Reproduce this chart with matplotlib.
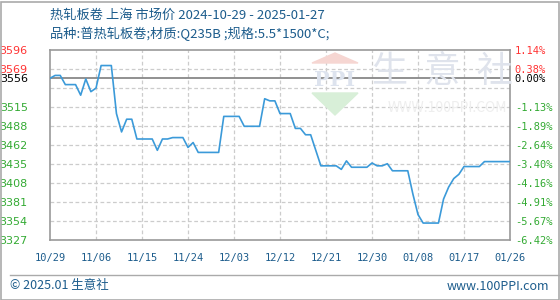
import matplotlib
matplotlib.use("Agg")
import matplotlib.pyplot as plt
from matplotlib.patches import Polygon, Rectangle
from matplotlib.lines import Line2D

plt.rcParams["font.family"] = ["Noto Sans CJK SC", "DejaVu Sans"]

# ── data (day offset from 2024-10-29, price) ──
days = [0, 1, 2, 3, 5, 6, 7, 8, 9, 10, 12, 13, 14, 15, 16, 17, 20, 21, 22, 23,
        24, 26, 27, 28, 29, 33, 34, 37, 38, 41, 42, 43, 44, 45, 47, 48, 49, 50,
        51, 53, 56, 57, 58, 59, 62, 63, 64, 65, 66, 67, 70, 71, 72, 73, 76, 77,
        78, 79, 80, 81, 84, 85, 90]
prices = [3556, 3560, 3560, 3547, 3547, 3532, 3555, 3537, 3542, 3574, 3574,
          3506, 3480, 3498, 3498, 3470, 3470, 3454, 3470, 3470, 3472, 3472,
          3458, 3465, 3451, 3451, 3502, 3502, 3488, 3488, 3527, 3524, 3524,
          3506, 3506, 3485, 3485, 3476, 3476, 3432, 3432, 3427, 3439, 3430,
          3430, 3436, 3432, 3432, 3435, 3425, 3425, 3392, 3363, 3351, 3351,
          3385, 3402, 3414, 3420, 3431, 3431, 3438, 3438]

x_ticks = [0, 9, 18, 27, 36, 45, 54, 63, 72, 81, 90]
x_labels = ["10/29", "11/06", "11/15", "11/24", "12/03", "12/12", "12/21",
            "12/30", "01/08", "01/17", "01/26"]

base_price = 3556
y_left = [3596, 3569, 3556, 3515, 3488, 3462, 3435, 3408, 3381, 3354, 3327]
y_right = ["1.14%", "0.38%", "0.00%", "-1.13%", "-1.89%", "-2.64%", "-3.40%",
           "-4.16%", "-4.91%", "-5.67%", "-6.42%"]
y_grid = [3569, 3542, 3515, 3488, 3462, 3435, 3408, 3381, 3354]

W, H = 560, 300
BLUE_TXT = "#1c5c8c"
RED, GREEN, BLACK = "#ff3333", "#33aa33", "#000000"


def px(x, y):
    return x / W, 1 - y / H


fig = plt.figure(figsize=(W / 100, H / 100), dpi=100)
fig.patch.set_facecolor("white")

# outer frame + footer separator
fig.add_artist(Rectangle((0.5 / W, 0.5 / H), (W - 1.5) / W, (H - 2.5) / H,
                         transform=fig.transFigure, fill=False,
                         edgecolor="#aaaaaa", lw=1.2))
fig.add_artist(Line2D([10 / W, 1], [1 - 275 / H] * 2, color="#aaaaaa", lw=1.0))

ax = fig.add_axes([50 / W, 1 - 240 / H, 460 / W, 190 / H])
ax.set_xlim(0, 90)
ax.set_ylim(3327, 3596)
for s in ax.spines.values():
    s.set_color("#999999")
    s.set_linewidth(1.2)

# watermark
wm = dict(transform=fig.transFigure, zorder=0)
fig.patches.append(Polygon([px(312, 63), px(358, 63), px(335, 53)],
                           closed=True, color="#f6d6d2", **wm))
fig.patches.append(Polygon([px(312, 93), px(358, 93), px(335, 115)],
                           closed=True, color="#d8efd8", **wm))
fig.text(*px(335, 80), "PPI", ha="center", va="center", fontsize=15,
         color="#dde3ee", fontweight="bold", family="DejaVu Serif", zorder=0)
fig.text(*px(442, 72), "生  意  社", ha="center", va="center", fontsize=26,
         color="#dfe3ec", zorder=0)
fig.text(*px(447, 108), "WWW.100PPI.COM", ha="center", va="center",
         fontsize=10, color="#eeeeee", zorder=0)
ax.patch.set_alpha(0)

# grid
for v in y_grid:
    ax.axhline(v, color="#cccccc", lw=0.9, ls=(0, (3, 2)), zorder=1)
for t in x_ticks[1:-1]:
    ax.axvline(t, color="#cccccc", lw=0.9, ls=(0, (3, 2)), zorder=1)
ax.axhline(base_price, color="#888888", lw=1.3, zorder=2)

ax.plot(days, prices, color="#3b9ad9", lw=1.2, zorder=3)

# left ticks
ax.set_yticks(y_left)
ax.set_yticklabels([str(v) for v in y_left], fontsize=8,
                   family="DejaVu Sans")
for lab, v in zip(ax.get_yticklabels(), y_left):
    lab.set_color(RED if v > base_price else BLACK if v == base_price else GREEN)
ax.tick_params(axis="y", length=0, pad=16)

# right ticks
axr = ax.twinx()
axr.set_ylim(ax.get_ylim())
axr.set_yticks(y_left)
axr.set_yticklabels(y_right, fontsize=7.5, family="DejaVu Sans Mono")
for lab, v in zip(axr.get_yticklabels(), y_left):
    lab.set_color(RED if v > base_price else BLACK if v == base_price else GREEN)
axr.tick_params(axis="y", length=0, pad=3.5)
for s in axr.spines.values():
    s.set_visible(False)

ax.set_xticks(x_ticks)
ax.set_xticklabels(x_labels, fontsize=7.5, color=BLUE_TXT,
                   family="DejaVu Sans Mono")
ax.tick_params(axis="x", length=0, pad=9)

# titles
fig.text(*px(50, 15), "热轧板卷 上海 市场价 2024-10-29 - 2025-01-27",
         ha="left", va="center", fontsize=9.5, color=BLUE_TXT)
fig.text(*px(50, 34), "品种:普热轧板卷;材质:Q235B ;规格:5.5*1500*C;",
         ha="left", va="center", fontsize=9.5, color=BLUE_TXT)

# footer
fig.text(*px(10, 286), "© 2025.01 生意社", ha="left", va="center",
         fontsize=9, color=BLUE_TXT)
fig.text(*px(549, 286), "www.100PPI.com", ha="right", va="center",
         fontsize=9, color=BLUE_TXT)

fig.savefig("out.png", dpi=100)
